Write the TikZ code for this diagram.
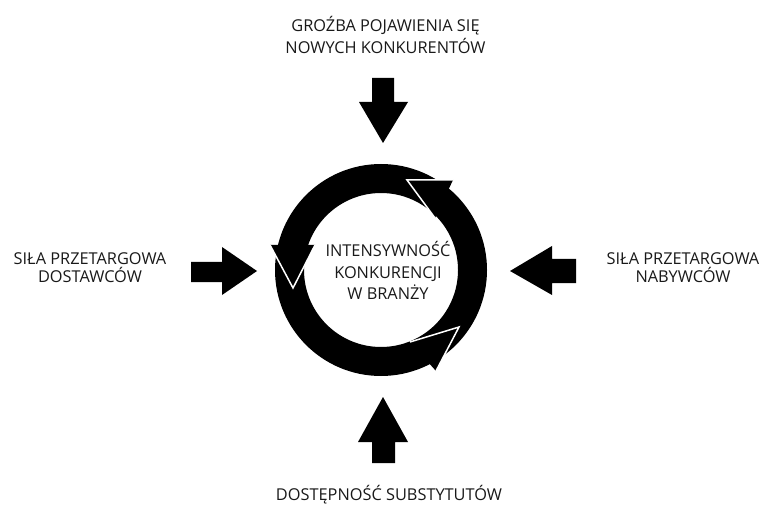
\documentclass[tikz,border=0pt]{standalone}
\usepackage{fontspec}
\setmainfont{Open Sans}
\begin{document}
\begin{tikzpicture}[x=1bp,y=-1bp,
  caption/.style={align=center, inner sep=0pt, text=black!90,
    font=\fontsize{16.4}{21.7}\selectfont},
  sidecaption/.style={caption, font=\fontsize{16.4}{18}\selectfont},
  solidshape/.style={fill=black},
  seam/.style={draw=white, line width=1.5bp, line join=miter}]
\useasboundingbox (0,0) rectangle (763,507);

% cycle ring
\coordinate (c) at (381,270);
\fill[solidshape, even odd rule] (c) circle[radius=106] (c) circle[radius=77];

% arrow heads on the ring, each with a white seam over the following arc
\coordinate (h1i) at (435,218); \coordinate (h1t) at (407,180); \coordinate (h1o) at (453,180);
\coordinate (h2i) at (315,245); \coordinate (h2t) at (293,288); \coordinate (h2o) at (270,245);
\coordinate (h3i) at (410,342); \coordinate (h3t) at (459,327); \coordinate (h3o) at (436,371);
\foreach \h in {h1,h2,h3}{
  \fill[solidshape] (\h i) -- (\h t) -- (\h o) -- cycle;
  \draw[seam] (\h i) -- (\h t) -- (\h o);
}

% block arrows pointing at the ring
\fill[solidshape] (372,78) -- (394,78) -- (394,102) -- (408,102) -- (383,143)
  -- (359,102) -- (372,102) -- cycle;
\fill[solidshape] (372,463) -- (395,463) -- (395,442) -- (408,442) -- (383,397)
  -- (358,442) -- (372,442) -- cycle;
\fill[solidshape] (191,262) -- (222,262) -- (222,247) -- (257,271) -- (222,295)
  -- (222,282) -- (191,282) -- cycle;
\fill[solidshape] (576,259) -- (552,259) -- (552,246) -- (510,271) -- (552,295)
  -- (552,283) -- (576,283) -- cycle;

% captions (base anchor sits on the last line)
\node[caption, anchor=base] (entrants) at (385.5,53.3)
  {GROŹBA POJAWIENIA SIĘ\\NOWYCH KONKURENTÓW};
\node[sidecaption, anchor=base] (suppliers) at (90,282.3)
  {SIŁA PRZETARGOWA\\DOSTAWCÓW};
\node[sidecaption, anchor=base] (buyers) at (683,282.3)
  {SIŁA PRZETARGOWA\\NABYWCÓW};
\node[caption, anchor=base] (rivalry) at (388,300)
  {INTENSYWNOŚĆ\\KONKURENCJI\\W BRANŻY};
\node[caption, anchor=base] (substitutes) at (389,500)
  {DOSTĘPNOŚĆ SUBSTYTUTÓW};
\end{tikzpicture}
\end{document}
